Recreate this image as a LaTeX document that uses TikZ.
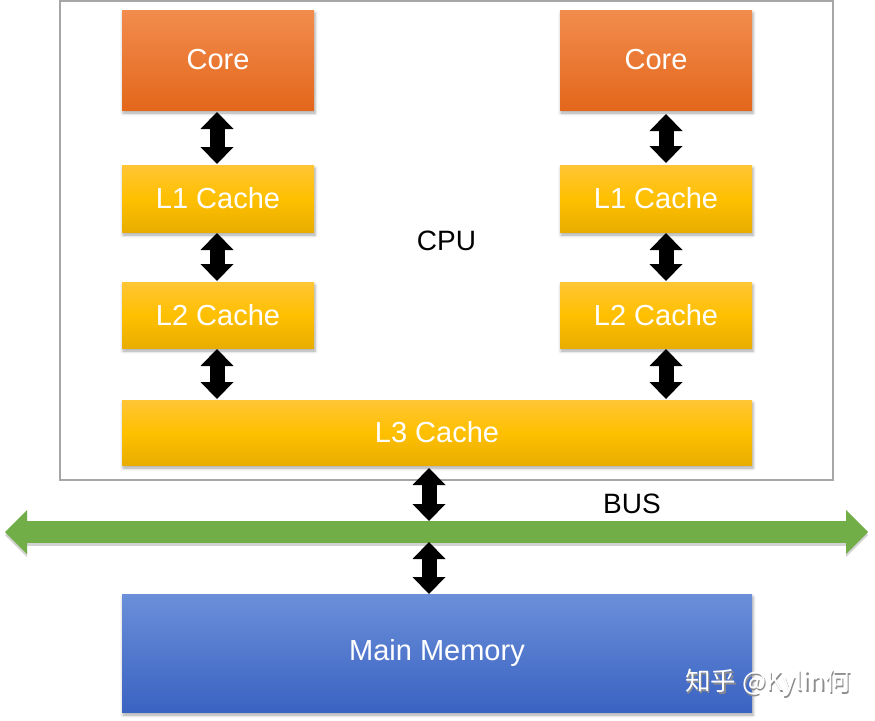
\documentclass[tikz,border=0pt]{standalone}
\usepackage{fontspec}
\setmainfont{Liberation Sans}
\newfontfamily\cjkfont{Noto Sans CJK SC}
\usetikzlibrary{arrows.meta,shadows.blur}
\definecolor{cpuframe}{HTML}{A6A6A6}
\definecolor{coretop}{HTML}{F28C4E}
\definecolor{corebot}{HTML}{E3671B}
\definecolor{cachetop}{HTML}{FFC535}
\definecolor{cachemid}{HTML}{FFC000}
\definecolor{cachebot}{HTML}{E8AD00}
\definecolor{memtop}{HTML}{6B8FD9}
\definecolor{membot}{HTML}{3A63C2}
\definecolor{busgreen}{HTML}{72AE48}
\tikzset{
  boxshadow/.style={blur shadow={shadow xshift=1pt,shadow yshift=-3pt,shadow blur radius=3pt,shadow opacity=35}},
  corebox/.style={boxshadow,top color=coretop,bottom color=corebot,minimum width=192pt,minimum height=100pt,
    inner sep=0pt,outer sep=0pt,text=white,font=\fontsize{29}{32}\selectfont},
  cachebox/.style={boxshadow,top color=cachetop,bottom color=cachebot,middle color=cachemid,minimum width=192pt,
    inner sep=0pt,outer sep=0pt,text=white,font=\fontsize{29}{32}\selectfont},
  membox/.style={boxshadow,top color=memtop,bottom color=membot,minimum width=630pt,minimum height=118pt,
    inner sep=0pt,outer sep=0pt,text=white,font=\fontsize{29}{32}\selectfont},
  cpubox/.style={draw=cpuframe,line width=1.5pt,minimum width=773pt,minimum height=479pt,inner sep=0pt,
    font=\fontsize{28}{32}\selectfont},
  dblarrow/.style={line width=15pt,black,
    {Triangle[length=17pt,width=33pt,line width=0pt]}-{Triangle[length=17pt,width=33pt,line width=0pt]}},
  busarrow/.style={line width=22pt,busgreen,
    {Triangle[length=22pt,width=44pt,line width=0pt]}-{Triangle[length=22pt,width=44pt,line width=0pt]}},
  busshadow/.style={line width=22pt,black!35,opacity=0.5,
    {Triangle[length=22pt,width=44pt,line width=0pt]}-{Triangle[length=22pt,width=44pt,line width=0pt]}},
  lbl/.style={font=\fontsize{28}{32}\selectfont,inner sep=0pt},
  wmark/.style={inner sep=0pt,font=\cjkfont\fontsize{25.5}{28}\selectfont},
}
\begin{document}
\begin{tikzpicture}[x=1pt,y=-1pt]
\useasboundingbox (0,0) rectangle (875,720);
\node[cpubox] (cpu) at (446.5,240.5) {CPU};
% left column
\node[corebox] (coreL) at (218,60) {Core};
\node[cachebox,minimum height=67pt] (l1L) at (218,198.5) {L1 Cache};
\node[cachebox,minimum height=66pt] (l2L) at (218,315) {L2 Cache};
% right column
\node[corebox] (coreR) at (656,60) {Core};
\node[cachebox,minimum height=67pt] (l1R) at (656,198.5) {L1 Cache};
\node[cachebox,minimum height=66pt] (l2R) at (656,315) {L2 Cache};
% L3
\node[cachebox,minimum width=630pt,minimum height=65pt] (l3) at (437,432.5) {L3 Cache};
% memory
\node[membox] (mem) at (437,653) {Main Memory};
% bus
\coordinate (busL) at (5,532);
\coordinate (busR) at (868,532);
\coordinate (busTop) at (429,521);
\coordinate (busBot) at (429,542);
\draw[busshadow] ([yshift=-3pt]busL) -- ([yshift=-3pt]busR);
\draw[busarrow] (busL) -- (busR);
\node[lbl] (bus) at (632,504) {BUS};
% vertical arrows
\draw[dblarrow,shorten <=2pt,shorten >=1pt] ([xshift=-1pt]coreL.south) -- ([xshift=-1pt]l1L.north);
\draw[dblarrow,shorten <=1pt,shorten >=1pt] ([xshift=-1pt]l1L.south) -- ([xshift=-1pt]l2L.north);
\draw[dblarrow,shorten <=1pt,shorten >=1pt] ([xshift=-1pt]l2L.south) -- ([xshift=-1pt]l2L.south |- l3.north);
\draw[dblarrow,shorten <=4pt,shorten >=2pt] ([xshift=10pt]coreR.south) -- ([xshift=10pt]l1R.north);
\draw[dblarrow,shorten <=1pt,shorten >=1pt] ([xshift=10pt]l1R.south) -- ([xshift=10pt]l2R.north);
\draw[dblarrow,shorten <=1pt,shorten >=1pt] ([xshift=10pt]l2R.south) -- ([xshift=10pt]l2R.south |- l3.north);
\draw[dblarrow,shorten <=3pt] (busTop |- l3.south) -- (busTop);
\draw[dblarrow] (busBot) -- (busBot |- mem.north);
% watermark
\node[wmark,text=black!45] at (769.5,684.5) {知乎 @Kylin何};
\node[wmark,text=white] (wm) at (768,683) {知乎 @Kylin何};
\end{tikzpicture}
\end{document}
